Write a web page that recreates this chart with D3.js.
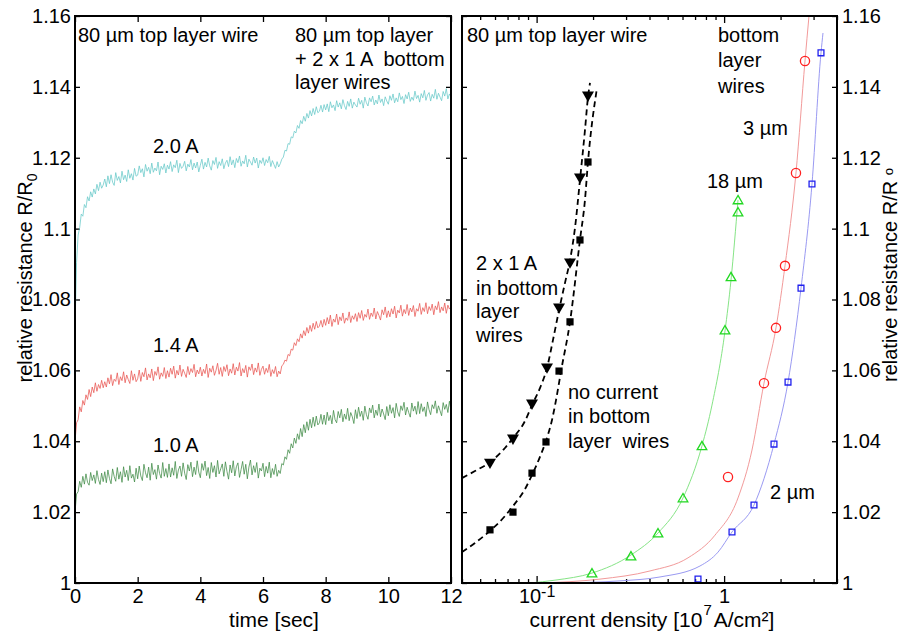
<!DOCTYPE html>
<html>
<head>
<meta charset="utf-8">
<script src="https://cdn.jsdelivr.net/npm/d3@7"></script>
<style>
  body { margin: 0; background: #fff; }
  svg text { font-family: "Liberation Sans", Arial, sans-serif; fill: #000; white-space: pre; }
</style>
</head>
<body>
<div id="chart"></div>
<script>
// ---------- left panel: R/R0 vs time ----------
const time = [0,0.05,0.1,0.15,0.2,0.25,0.3,0.35,0.4,0.45,0.5,0.55,0.6,0.65,0.7,0.75,0.8,0.85,0.9,0.95,
  1,1.05,1.1,1.15,1.2,1.25,1.3,1.35,1.4,1.45,1.5,1.55,1.6,1.65,1.7,1.75,1.8,1.85,1.9,1.95,
  2,2.05,2.1,2.15,2.2,2.25,2.3,2.35,2.4,2.45,2.5,2.55,2.6,2.65,2.7,2.75,2.8,2.85,2.9,2.95,
  3,3.05,3.1,3.15,3.2,3.25,3.3,3.35,3.4,3.45,3.5,3.55,3.6,3.65,3.7,3.75,3.8,3.85,3.9,3.95,
  4,4.05,4.1,4.15,4.2,4.25,4.3,4.35,4.4,4.45,4.5,4.55,4.6,4.65,4.7,4.75,4.8,4.85,4.9,4.95,
  5,5.05,5.1,5.15,5.2,5.25,5.3,5.35,5.4,5.45,5.5,5.55,5.6,5.65,5.7,5.75,5.8,5.85,5.9,5.95,
  6,6.05,6.1,6.15,6.2,6.25,6.3,6.35,6.4,6.45,6.5,6.55,6.6,6.65,6.7,6.75,6.8,6.85,6.9,6.95,
  7,7.05,7.1,7.15,7.2,7.25,7.3,7.35,7.4,7.45,7.5,7.55,7.6,7.65,7.7,7.75,7.8,7.85,7.9,7.95,
  8,8.05,8.1,8.15,8.2,8.25,8.3,8.35,8.4,8.45,8.5,8.55,8.6,8.65,8.7,8.75,8.8,8.85,8.9,8.95,
  9,9.05,9.1,9.15,9.2,9.25,9.3,9.35,9.4,9.45,9.5,9.55,9.6,9.65,9.7,9.75,9.8,9.85,9.9,9.95,
  10,10.05,10.1,10.15,10.2,10.25,10.3,10.35,10.4,10.45,10.5,10.55,10.6,10.65,10.7,10.75,10.8,10.85,10.9,10.95,
  11,11.05,11.1,11.15,11.2,11.25,11.3,11.35,11.4,11.45,11.5,11.55,11.6,11.65,11.7,11.75,11.8,11.85,11.9,11.95,
  12];

// 2.0 A
const res20 = [
  1.0720,1.0905,1.0982,1.1003,1.1041,1.1035,1.1068,1.1059,1.1090,1.1078,1.1104,1.1089,1.1112,1.1098,1.1125,1.1107,1.1131,1.1114,1.1123,1.1140,
  1.1118,1.1149,1.1127,1.1152,1.1131,1.1122,1.1158,1.1136,1.1147,1.1129,1.1162,1.1138,1.1151,1.1133,1.1166,1.1142,1.1155,1.1137,1.1170,1.1148,
  1.1151,1.1177,1.1158,1.1169,1.1146,1.1181,1.1162,1.1173,1.1155,1.1185,1.1159,1.1171,1.1163,1.1188,1.1152,1.1176,1.1167,1.1183,1.1157,1.1179,
  1.1168,1.1189,1.1161,1.1180,1.1172,1.1193,1.1158,1.1184,1.1170,1.1176,1.1190,1.1163,1.1182,1.1174,1.1195,1.1166,1.1185,1.1171,1.1188,1.1160,
  1.1179,1.1196,1.1168,1.1187,1.1174,1.1199,1.1177,1.1165,1.1192,1.1181,1.1201,1.1170,1.1189,1.1178,1.1197,1.1169,1.1185,1.1193,1.1175,1.1203,
  1.1180,1.1194,1.1172,1.1198,1.1186,1.1205,1.1176,1.1191,1.1183,1.1207,1.1174,1.1196,1.1188,1.1179,1.1202,1.1185,1.1199,1.1171,1.1193,1.1184,
  1.1200,1.1178,1.1195,1.1186,1.1204,1.1175,1.1192,1.1181,1.1170,1.1189,1.1174,1.1183,1.1196,1.1202,1.1221,1.1219,1.1240,1.1238,1.1259,1.1256,
  1.1275,1.1270,1.1291,1.1283,1.1305,1.1296,1.1317,1.1303,1.1325,1.1312,1.1333,1.1318,1.1339,1.1322,1.1344,1.1327,1.1331,1.1348,1.1329,1.1350,
  1.1335,1.1352,1.1330,1.1358,1.1341,1.1349,1.1333,1.1361,1.1343,1.1355,1.1338,1.1364,1.1347,1.1336,1.1359,1.1345,1.1366,1.1340,1.1357,1.1349,
  1.1343,1.1368,1.1351,1.1362,1.1340,1.1371,1.1355,1.1346,1.1369,1.1358,1.1374,1.1349,1.1363,1.1352,1.1377,1.1356,1.1366,1.1347,1.1372,1.1360,
  1.1351,1.1375,1.1362,1.1380,1.1355,1.1369,1.1358,1.1383,1.1364,1.1373,1.1353,1.1378,1.1366,1.1385,1.1359,1.1371,1.1362,1.1388,1.1367,1.1376,
  1.1357,1.1381,1.1369,1.1390,1.1362,1.1377,1.1384,1.1360,1.1379,1.1368,1.1393,1.1365,1.1382,1.1371,1.1361,1.1387,1.1374,1.1395,1.1366,1.1380,
  1.1372];

// 1.4 A
const res14 = [
  1.0400,1.0452,1.0461,1.0497,1.0483,1.0515,1.0502,1.0531,1.0518,1.0546,1.0526,1.0553,1.0537,1.0565,1.0541,1.0560,1.0549,1.0572,1.0551,1.0568,
  1.0553,1.0579,1.0562,1.0588,1.0557,1.0575,1.0569,1.0593,1.0560,1.0582,1.0571,1.0596,1.0565,1.0587,1.0574,1.0563,1.0599,1.0572,1.0590,1.0568,
  1.0576,1.0601,1.0569,1.0594,1.0582,1.0607,1.0573,1.0590,1.0579,1.0604,1.0571,1.0597,1.0586,1.0610,1.0575,1.0593,1.0583,1.0608,1.0577,1.0599,
  1.0581,1.0606,1.0589,1.0612,1.0578,1.0600,1.0587,1.0615,1.0583,1.0603,1.0592,1.0580,1.0611,1.0588,1.0605,1.0594,1.0617,1.0582,1.0601,1.0590,
  1.0609,1.0584,1.0603,1.0591,1.0618,1.0580,1.0606,1.0595,1.0613,1.0586,1.0600,1.0620,1.0589,1.0608,1.0583,1.0611,1.0597,1.0616,1.0585,1.0604,
  1.0592,1.0619,1.0587,1.0609,1.0598,1.0622,1.0584,1.0605,1.0593,1.0614,1.0581,1.0610,1.0600,1.0618,1.0588,1.0607,1.0595,1.0621,1.0586,1.0603,
  1.0612,1.0589,1.0606,1.0594,1.0617,1.0583,1.0602,1.0591,1.0611,1.0582,1.0598,1.0590,1.0613,1.0617,1.0629,1.0626,1.0645,1.0641,1.0660,1.0657,
  1.0678,1.0670,1.0689,1.0681,1.0703,1.0691,1.0712,1.0698,1.0721,1.0705,1.0727,1.0710,1.0733,1.0716,1.0738,1.0720,1.0725,1.0741,1.0722,1.0744,
  1.0727,1.0749,1.0731,1.0756,1.0724,1.0745,1.0736,1.0759,1.0729,1.0751,1.0740,1.0762,1.0733,1.0748,1.0741,1.0765,1.0735,1.0754,1.0744,1.0760,
  1.0738,1.0763,1.0747,1.0769,1.0741,1.0758,1.0750,1.0773,1.0744,1.0762,1.0752,1.0776,1.0745,1.0766,1.0755,1.0742,1.0771,1.0757,1.0779,1.0749,
  1.0768,1.0751,1.0774,1.0759,1.0781,1.0748,1.0770,1.0762,1.0784,1.0753,1.0772,1.0760,1.0786,1.0755,1.0776,1.0765,1.0783,1.0752,1.0774,1.0767,
  1.0789,1.0758,1.0777,1.0766,1.0791,1.0760,1.0780,1.0769,1.0787,1.0757,1.0782,1.0771,1.0794,1.0763,1.0779,1.0768,1.0790,1.0761,1.0784,1.0773,
  1.0778];

// 1.0 A
const res10 = [
  1.0200,1.0251,1.0258,1.0287,1.0270,1.0301,1.0279,1.0308,1.0284,1.0276,1.0312,1.0289,1.0305,1.0281,1.0317,1.0292,1.0278,1.0310,1.0286,1.0314,
  1.0283,1.0319,1.0295,1.0280,1.0322,1.0301,1.0287,1.0326,1.0293,1.0314,1.0284,1.0328,1.0299,1.0318,1.0289,1.0331,1.0296,1.0307,1.0285,1.0324,
  1.0294,1.0330,1.0302,1.0289,1.0335,1.0311,1.0297,1.0327,1.0290,1.0338,1.0306,1.0320,1.0293,1.0333,1.0309,1.0296,1.0340,1.0301,1.0323,1.0298,
  1.0336,1.0299,1.0325,1.0304,1.0343,1.0295,1.0319,1.0330,1.0301,1.0339,1.0310,1.0292,1.0334,1.0316,1.0341,1.0300,1.0327,1.0306,1.0345,1.0313,
  1.0297,1.0337,1.0318,1.0344,1.0303,1.0326,1.0295,1.0340,1.0312,1.0331,1.0299,1.0346,1.0308,1.0322,1.0336,1.0301,1.0342,1.0315,1.0293,1.0333,
  1.0311,1.0345,1.0302,1.0328,1.0339,1.0298,1.0320,1.0343,1.0307,1.0335,1.0294,1.0327,1.0347,1.0305,1.0331,1.0312,1.0340,1.0296,1.0324,1.0316,
  1.0338,1.0300,1.0329,1.0310,1.0341,1.0297,1.0323,1.0306,1.0335,1.0301,1.0318,1.0309,1.0337,1.0333,1.0356,1.0349,1.0376,1.0366,1.0393,1.0381,
  1.0409,1.0394,1.0421,1.0405,1.0436,1.0413,1.0447,1.0424,1.0455,1.0431,1.0462,1.0438,1.0468,1.0442,1.0471,1.0446,1.0452,1.0476,1.0448,1.0474,
  1.0447,1.0482,1.0458,1.0473,1.0449,1.0487,1.0461,1.0452,1.0484,1.0466,1.0490,1.0455,1.0477,1.0462,1.0493,1.0458,1.0481,1.0469,1.0450,1.0489,
  1.0464,1.0496,1.0470,1.0485,1.0459,1.0499,1.0475,1.0462,1.0494,1.0480,1.0502,1.0466,1.0488,1.0473,1.0505,1.0469,1.0491,1.0477,1.0461,1.0498,
  1.0472,1.0503,1.0479,1.0495,1.0466,1.0507,1.0483,1.0470,1.0500,1.0487,1.0510,1.0474,1.0496,1.0481,1.0468,1.0508,1.0485,1.0499,1.0476,1.0512,
  1.0478,1.0506,1.0484,1.0497,1.0470,1.0511,1.0489,1.0475,1.0503,1.0492,1.0514,1.0479,1.0500,1.0486,1.0472,1.0509,1.0490,1.0504,1.0481,1.0513,
  1.0488];

const timeTicks = [0, 2, 4, 6, 8, 10, 12];
const resTicks = [1, 1.02, 1.04, 1.06, 1.08, 1.1, 1.12, 1.14, 1.16];
const jMajor = [0.1, 1];

// ---------- right panel: R/R0 vs current density ----------
// 80 um top wire, 2 x 1 A in bottom wires (filled down triangles)
const jTri = [0.0564, 0.0748, 0.0945, 0.1136, 0.1317, 0.1507, 0.1703, 0.1879];
const rTri = [1.0341, 1.0409, 1.0508, 1.0610, 1.0779, 1.0906, 1.1146, 1.1377];
// 80 um top wire, no current in bottom wires (filled squares)
const jSq = [0.0564, 0.0748, 0.0945, 0.1122, 0.1317, 0.1507, 0.1703, 0.1879];
const rSq = [1.0150, 1.0200, 1.0310, 1.0398, 1.0598, 1.0737, 1.0968, 1.1188];
// bottom layer wires 18 um, 3 um, 2 um
const j18 = [0.1974, 0.3186, 0.444, 0.6036, 0.762, 1.0108, 1.0884, 1.186, 1.186];
const r18 = [1.0025, 1.0073, 1.0138, 1.0237, 1.0384, 1.0711, 1.0861, 1.1044, 1.1078];
const j3 = [1.049, 1.632, 1.891, 2.112, 2.417, 2.70];
const r3 = [1.0299, 1.0564, 1.0720, 1.0895, 1.1157, 1.1473];
const j2 = [0.7257, 1.1016, 1.443, 1.845, 2.192, 2.571, 2.942, 3.286];
const r2 = [1.0011, 1.0144, 1.0220, 1.0392, 1.0567, 1.0832, 1.1126, 1.1496];

// fitted curves
const fitTriJ = [0.04, 0.0469, 0.0564, 0.0678, 0.0748, 0.0867, 0.0945, 0.1042, 0.1136, 0.1223, 0.1317, 0.1417, 0.1507, 0.1602, 0.1703, 0.1811, 0.1879, 0.1926];
const fitTriR = [1.0296, 1.0316, 1.0341, 1.0381, 1.0409, 1.0457, 1.0502, 1.0550, 1.0607, 1.0686, 1.0770, 1.0847, 1.0911, 1.1002, 1.1137, 1.1278, 1.1371, 1.1411];
const fitSqJ = [0.04, 0.0469, 0.0564, 0.0678, 0.0748, 0.0867, 0.0945, 0.1042, 0.1122, 0.1208, 0.1269, 0.1350, 0.1507, 0.1703, 0.1811, 0.1879, 0.2099];
const fitSqR = [1.0087, 1.0113, 1.0147, 1.0189, 1.0217, 1.0265, 1.0305, 1.0356, 1.0401, 1.0460, 1.0516, 1.0598, 1.0737, 1.0968, 1.1081, 1.1188, 1.1397];
const fit18J = [0.0922, 0.1253, 0.1974, 0.3186, 0.444, 0.6036, 0.762, 0.8617, 1.0108, 1.0884, 1.186];
const fit18R = [1.0, 1.0008, 1.0028, 1.0079, 1.0141, 1.0240, 1.0387, 1.0502, 1.0711, 1.0855, 1.1081];
const fit3J = [0.1042, 0.2178, 0.4025, 0.642, 0.894, 1.186, 1.408, 1.632, 1.891, 2.112, 2.417, 2.70, 2.836];
const fit3R = [1.0, 1.0011, 1.0034, 1.0071, 1.0135, 1.0240, 1.0375, 1.0564, 1.0720, 1.0895, 1.1157, 1.1473, 1.16];
const fit2J = [0.1333, 0.2785, 0.455, 0.7436, 0.9276, 1.1016, 1.443, 1.845, 2.192, 2.571, 2.942, 3.286, 3.368];
const fit2R = [1.0, 1.0006, 1.0017, 1.0048, 1.0087, 1.0144, 1.0220, 1.0392, 1.0567, 1.0832, 1.1126, 1.1496, 1.1552];

const FONT = 20;
const TITLE = 21;
const TOP = 16, BOTTOM = 583;

const svg = d3.select("#chart").append("svg")
  .attr("width", 905).attr("height", 631);

const y = d3.scaleLinear().domain([1, 1.16]).range([BOTTOM, TOP]);
const xL = d3.scaleLinear().domain([0, 12]).range([75, 451]);
const xR = d3.scaleLog().domain([0.04, 4]).range([462, 837]);

const fmtRes = d => String(+d.toFixed(2));
const zip = (a, b) => a.map((v, i) => [v, b[i]]);

function styleAxis(g) {
  g.select(".domain").remove();
  g.selectAll(".tick line").attr("stroke", "#000").attr("stroke-width", 1.3);
  g.selectAll("text").attr("font-size", FONT).attr("font-family", "Liberation Sans, Arial, sans-serif").attr("fill", "#000");
}

// clip paths
const defs = svg.append("defs");
defs.append("clipPath").attr("id", "clipL").append("rect")
  .attr("x", 75).attr("y", TOP).attr("width", 376).attr("height", BOTTOM - TOP);
defs.append("clipPath").attr("id", "clipR").append("rect")
  .attr("x", 462).attr("y", TOP).attr("width", 375).attr("height", BOTTOM - TOP);

// ---- left panel axes ----
svg.append("g").attr("transform", `translate(0,${BOTTOM})`)
  .call(d3.axisBottom(xL).tickValues(timeTicks).tickSize(-6).tickPadding(6).tickFormat(d3.format("d")))
  .call(styleAxis);
svg.append("g").attr("transform", `translate(0,${TOP})`)
  .call(d3.axisTop(xL).tickValues(timeTicks).tickSize(-6).tickFormat(""))
  .call(styleAxis);
svg.append("g").attr("transform", "translate(75,0)")
  .call(d3.axisLeft(y).tickValues(resTicks).tickSize(-5).tickPadding(4).tickFormat(fmtRes))
  .call(styleAxis);
svg.append("g").attr("transform", "translate(451,0)")
  .call(d3.axisRight(y).tickValues(resTicks).tickSize(-5).tickFormat(""))
  .call(styleAxis);

// ---- left panel lines ----
const lineT = d3.line().x(d => xL(d[0])).y(d => y(d[1]));
const seriesL = [
  { vals: res20, color: "#66c8c8" },
  { vals: res14, color: "#e85450" },
  { vals: res10, color: "#3d8a44" }
];
const gL = svg.append("g").attr("clip-path", "url(#clipL)");
seriesL.forEach(s => {
  gL.append("path").datum(zip(time, s.vals))
    .attr("d", lineT).attr("fill", "none")
    .attr("stroke", s.color).attr("stroke-width", 0.75);
});

// ---- right panel axes ----
const minorJ = xR.ticks().filter(d => !jMajor.some(m => Math.abs(m - d) < 1e-9));
svg.append("g").attr("transform", `translate(0,${BOTTOM})`)
  .call(d3.axisBottom(xR).tickValues(jMajor).tickSize(-7).tickPadding(6).tickFormat(d => d === 1 ? "1" : "10"))
  .call(styleAxis)
  .call(g => {
    g.selectAll(".tick text").filter(d => d === 0.1)
      .append("tspan").text("-1").attr("font-size", 16).attr("dy", "-0.4em");
  });
svg.append("g").attr("transform", `translate(0,${BOTTOM})`)
  .call(d3.axisBottom(xR).tickValues(minorJ).tickSize(-4).tickFormat(""))
  .call(styleAxis);
svg.append("g").attr("transform", `translate(0,${TOP})`)
  .call(d3.axisTop(xR).tickValues(jMajor).tickSize(-7).tickFormat(""))
  .call(styleAxis);
svg.append("g").attr("transform", `translate(0,${TOP})`)
  .call(d3.axisTop(xR).tickValues(minorJ).tickSize(-4).tickFormat(""))
  .call(styleAxis);
svg.append("g").attr("transform", "translate(462,0)")
  .call(d3.axisLeft(y).tickValues(resTicks).tickSize(-5).tickFormat(""))
  .call(styleAxis);
svg.append("g").attr("transform", "translate(837,0)")
  .call(d3.axisRight(y).tickValues(resTicks).tickSize(-5).tickPadding(5).tickFormat(fmtRes))
  .call(styleAxis);

// ---- right panel curves ----
const gR = svg.append("g").attr("clip-path", "url(#clipR)");
const lineJ = d3.line().x(d => xR(d[0])).y(d => y(d[1])).curve(d3.curveMonotoneX);
const fits = [
  { j: fit18J, r: fit18R, color: "#86e486", w: 1, dash: null },
  { j: fit3J, r: fit3R, color: "#f29a9a", w: 1, dash: null },
  { j: fit2J, r: fit2R, color: "#9a9af2", w: 1, dash: null },
  { j: fitTriJ, r: fitTriR, color: "#000", w: 1.8, dash: "6,4" },
  { j: fitSqJ, r: fitSqR, color: "#000", w: 1.8, dash: "6,4" }
];
fits.forEach(f => {
  gR.append("path").datum(zip(f.j, f.r))
    .attr("d", lineJ).attr("fill", "none")
    .attr("stroke", f.color).attr("stroke-width", f.w)
    .attr("stroke-dasharray", f.dash);
});

// ---- markers ----
const gM = svg.append("g");
gM.selectAll("path.tri").data(zip(jTri, rTri)).enter().append("path")
  .attr("d", d3.symbol(d3.symbolTriangle, 62))
  .attr("transform", d => `translate(${xR(d[0])},${y(d[1])}) rotate(180)`)
  .attr("fill", "#000");
gM.selectAll("path.sq").data(zip(jSq, rSq)).enter().append("path")
  .attr("d", d3.symbol(d3.symbolSquare, 52))
  .attr("transform", d => `translate(${xR(d[0])},${y(d[1])})`)
  .attr("fill", "#000");
gM.selectAll("path.g18").data(zip(j18, r18)).enter().append("path")
  .attr("d", d3.symbol(d3.symbolTriangle, 40))
  .attr("transform", d => `translate(${xR(d[0])},${y(d[1])})`)
  .attr("fill", "none").attr("stroke", "#22d822").attr("stroke-width", 1.3);
gM.selectAll("circle.r3").data(zip(j3, r3)).enter().append("circle")
  .attr("cx", d => xR(d[0])).attr("cy", d => y(d[1])).attr("r", 4.6)
  .attr("fill", "none").attr("stroke", "#ff2020").attr("stroke-width", 1.3);
gM.selectAll("path.b2").data(zip(j2, r2)).enter().append("path")
  .attr("d", d3.symbol(d3.symbolSquare, 34))
  .attr("transform", d => `translate(${xR(d[0])},${y(d[1])})`)
  .attr("fill", "none").attr("stroke", "#2020ee").attr("stroke-width", 1.3);

// ---- frames ----
[[75, 451], [462, 837]].forEach(([a, b]) => {
  svg.append("rect").attr("x", a).attr("y", TOP).attr("width", b - a).attr("height", BOTTOM - TOP)
    .attr("fill", "none").attr("stroke", "#000").attr("stroke-width", 2);
});

// ---- text annotations ----
function note(x, yb, txt, size) {
  return svg.append("text").attr("x", x).attr("y", yb).attr("font-size", size || FONT).text(txt);
}
note(78, 42, "80 µm top layer wire");
note(295, 42, "80 µm top layer");
note(295, 66, "+ 2 x 1 A  bottom");
note(295, 89, "layer wires");
note(153, 153, "2.0 A");
note(153, 352, "1.4 A");
note(153, 452, "1.0 A");

note(467, 42, "80 µm top layer wire");
note(718, 42, "bottom");
note(718, 67, "layer");
note(718, 93, "wires");
note(743, 135, "3 µm");
note(707, 188, "18 µm");
note(476, 270, "2 x 1 A");
note(476, 295, "in bottom");
note(476, 318, "layer");
note(476, 342, "wires");
note(568, 399, "no current");
note(568, 423, "in bottom");
note(568, 448, "layer  wires");
note(770, 499, "2 µm");

// axis titles
svg.append("text").attr("x", 274).attr("y", 627).attr("text-anchor", "middle")
  .attr("font-size", TITLE).text("time [sec]");
// current density title: "[10" + raised "7" + "A/cm²]"
const t1 = note(0, 627, "current density [10", TITLE);
const w1 = t1.node().getComputedTextLength();
const t2 = note(0, 615, "7", 15);
const w2 = t2.node().getComputedTextLength();
const t3 = note(0, 627, "A/cm²]", TITLE);
const w3 = t3.node().getComputedTextLength();
const x0 = 652 - (w1 + w2 + w3 + 3) / 2;
t1.attr("x", x0);
t2.attr("x", x0 + w1 + 1);
t3.attr("x", x0 + w1 + w2 + 3);

const yl = svg.append("text").attr("transform", "translate(32,278) rotate(-90)")
  .attr("text-anchor", "middle").attr("font-size", FONT);
yl.append("tspan").text("relative resistance R/R");
yl.append("tspan").text("0").attr("font-size", 14).attr("dy", 5);

const yr = svg.append("text").attr("transform", "translate(897,275) rotate(-90)")
  .attr("text-anchor", "middle").attr("font-size", FONT);
yr.append("tspan").text("relative resistance R/R ");
yr.append("tspan").text("o").attr("font-size", 13).attr("dy", -4);
</script>
</body>
</html>
